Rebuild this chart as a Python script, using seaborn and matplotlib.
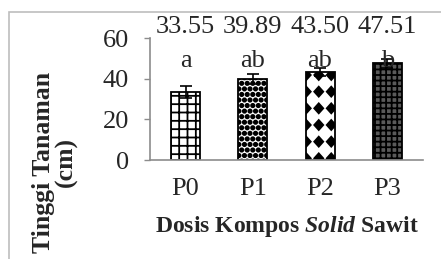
import matplotlib
matplotlib.use('Agg')
import matplotlib.pyplot as plt
import matplotlib.hatch as mhatch
from matplotlib.path import Path
import pandas as pd
import seaborn as sns
from matplotlib.patches import Rectangle

# data
perlakuan = ['P0', 'P1', 'P2', 'P3']
tinggi = [33.55, 39.89, 43.50, 47.51]
galat = [3.0, 2.6, 2.0, 2.4]
notasi = ['a', 'ab', 'ab', 'b']
yticks = [0, 20, 40, 60]


# Excel-like "large diamond" fill: aligned grid of filled diamonds (uses the '*' hatch char)
class Diamonds(mhatch.HatchPatternBase):
    def __init__(self, hatch, density):
        self.cols = hatch.count('*') * 8
        self.rows = hatch.count('*') * 6
        self.num_vertices = self.cols * self.rows * 5

    def set_vertices_and_codes(self, vertices, codes):
        k = 0
        for i in range(self.cols):
            for j in range(self.rows):
                cx = (i + 0.5) / self.cols
                cy = (j + 0.5) / self.rows
                vertices[k:k + 5] = [(cx, cy + 0.05), (cx - 0.045, cy), (cx, cy - 0.05),
                                     (cx + 0.045, cy), (cx, cy + 0.05)]
                codes[k:k + 5] = [Path.MOVETO, Path.LINETO, Path.LINETO, Path.LINETO, Path.CLOSEPOLY]
                k += 5


mhatch.SmallFilledCircles.size = 0.3
mhatch._hatch_types[mhatch._hatch_types.index(mhatch.Stars)] = Diamonds

sns.set_style('white')
plt.rcParams['font.family'] = ['Liberation Serif', 'DejaVu Serif']
plt.rcParams['hatch.linewidth'] = 1.3
plt.rcParams['mathtext.fontset'] = 'custom'
plt.rcParams['mathtext.rm'] = 'Liberation Serif'
plt.rcParams['mathtext.bf'] = 'Liberation Serif:bold'
plt.rcParams['mathtext.it'] = 'Liberation Serif:italic:bold'

df = pd.DataFrame({'perlakuan': perlakuan, 'tinggi': tinggi})

fig = plt.figure(figsize=(4.41, 2.59), dpi=100)
ax = fig.add_axes([0.340, 0.382, 0.619, 0.471])

sns.barplot(data=df, x='perlakuan', y='tinggi', color='white', width=0.43,
            errorbar=None, edgecolor='black', linewidth=1.3, ax=ax)

hatches = ['++', '...', '*', '+++']
faces = ['white', 'white', 'white', '#5a5a5a']
for bar, h, fc in zip(ax.patches, hatches, faces):
    bar.set_hatch(h)
    bar.set_facecolor(fc)

xpos = ax.get_xticks()
ax.errorbar(xpos, tinggi, yerr=galat, fmt='none', ecolor='black',
            elinewidth=1.2, capsize=4, capthick=1.2)

for x, v, n in zip(xpos, tinggi, notasi):
    ax.text(x, 65.5, f'{v:.2f}', ha='center', va='center', fontsize=19, clip_on=False)
    ax.text(x, 48.5, n, ha='center', va='center', fontsize=19)

ax.set_ylim(0, 60)
ax.set_xlim(-0.53, 3.53)
ax.set_yticks(yticks)
ax.tick_params(axis='y', length=4, width=1, color='#8c8c8c', pad=11, labelsize=19, left=True)
ax.tick_params(axis='x', length=0, pad=13, labelsize=19)
sns.despine(ax=ax)
for s in ['left', 'bottom']:
    ax.spines[s].set_color('#8c8c8c')
    ax.spines[s].set_linewidth(1.2)

ax.set_xlabel(r'Dosis Kompos $\mathit{Solid}$ Sawit', fontsize=17, fontweight='bold', labelpad=10)
ax.set_ylabel('')

fig.text(0.124, 0.374, 'Tinggi Tanaman\n(cm)', rotation=90, ha='center', va='center',
         fontsize=18.5, fontweight='bold', multialignment='center', linespacing=0.95)

# border around the figure, like the source document
fig.patches.append(Rectangle((9 / 441, -0.1), 2, 1 - 12 / 259 + 0.1, transform=fig.transFigure,
                             fill=False, edgecolor='#bdbdbd', linewidth=1.2))

fig.savefig('out.png', dpi=100)
